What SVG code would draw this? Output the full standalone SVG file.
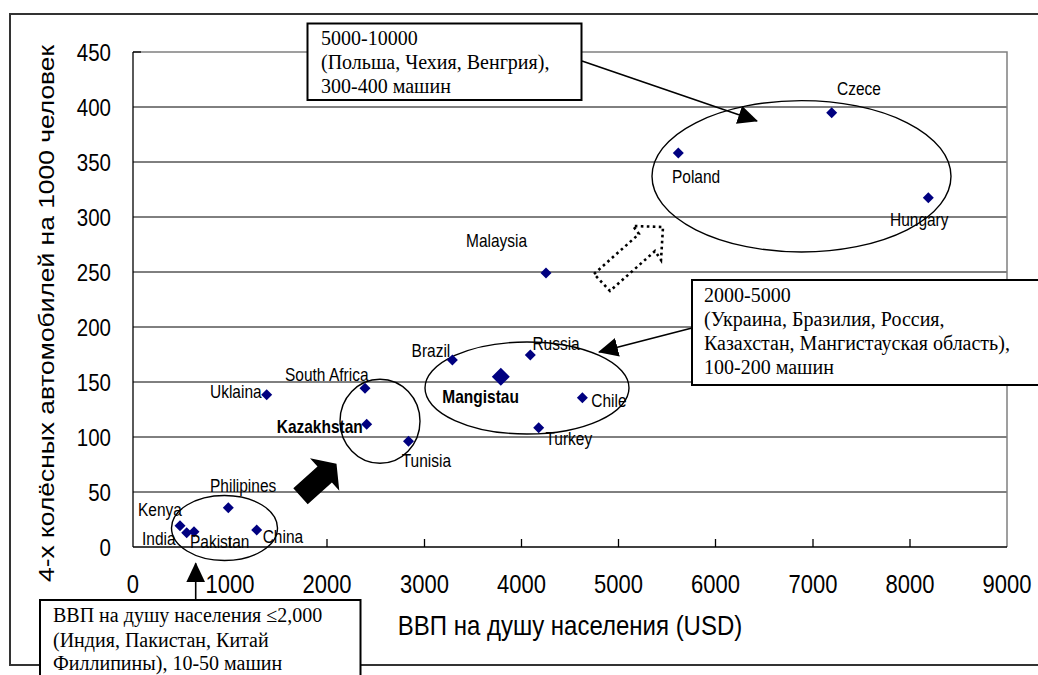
<svg xmlns="http://www.w3.org/2000/svg" width="1038" height="675" viewBox="0 0 1038 675">
  <style>
    .frame { fill: #ffffff; stroke: #333333; stroke-width: 2; }
    .grid { stroke: #000000; stroke-width: 1; }
    .border { stroke: #808080; stroke-width: 1.5; fill: none; }
    .axis { stroke: #000000; stroke-width: 1.3; }
    .tick { font-family: "Liberation Sans", Arial, sans-serif; font-size: 20.5px; fill: #000000; }
    .xtick { font-family: "Liberation Sans", Arial, sans-serif; font-size: 22px; fill: #000000; text-anchor: middle; }
    .title { font-family: "Liberation Sans", Arial, sans-serif; fill: #000000; }
    .lbl { font-family: "Liberation Sans", Arial, sans-serif; font-size: 15.5px; fill: #000000; }
    .bold { font-weight: bold; }
    .pt { fill: #000080; }
    .ring { fill: none; stroke: #000000; stroke-width: 1.4; }
    .note { fill: #ffffff; stroke: #000000; stroke-width: 2; }
    .note-text { font-family: "Liberation Serif", "Times New Roman", serif; font-size: 20px; fill: #000000; }
    .lead { stroke: #000000; stroke-width: 1.6; fill: none; }
  </style>
  <defs>
    <path id="dia" d="M0,-5.5 L5.5,0 L0,5.5 L-5.5,0 Z"/>
    <path id="dia-big" d="M0,-9 L9,0 L0,9 L-9,0 Z"/>
    <marker id="head" viewBox="0 0 20 19" markerWidth="20" markerHeight="19" refX="19" refY="9.5" orient="auto" markerUnits="userSpaceOnUse">
      <path d="M0,0 L20,9.5 L0,19 Z" fill="#000000"/>
    </marker>
  </defs>

  <!-- chart area -->
  <rect x="0" y="0" width="1038" height="675" fill="#ffffff"/>
  <rect class="frame" x="10" y="14" width="1040" height="651"/>

  <!-- plot area: gridlines, border, axes -->
  <g id="plot">
    <g class="grid">
      <line x1="133" y1="107" x2="1007" y2="107"/>
      <line x1="133" y1="162" x2="1007" y2="162"/>
      <line x1="133" y1="217" x2="1007" y2="217"/>
      <line x1="133" y1="272" x2="1007" y2="272"/>
      <line x1="133" y1="327" x2="1007" y2="327"/>
      <line x1="133" y1="382" x2="1007" y2="382"/>
      <line x1="133" y1="437" x2="1007" y2="437"/>
      <line x1="133" y1="492" x2="1007" y2="492"/>
    </g>
    <path class="border" d="M133,52 H1007 V547"/>
    <g class="axis">
      <line x1="133" y1="52" x2="133" y2="547"/>
      <line x1="133" y1="547" x2="1007" y2="547"/>
      <line x1="133" y1="52" x2="141" y2="52"/>
      <line x1="230" y1="547" x2="230" y2="539"/>
      <line x1="327" y1="547" x2="327" y2="539"/>
      <line x1="424.5" y1="547" x2="424.5" y2="539"/>
      <line x1="521.5" y1="547" x2="521.5" y2="539"/>
      <line x1="618.5" y1="547" x2="618.5" y2="539"/>
      <line x1="715.5" y1="547" x2="715.5" y2="539"/>
      <line x1="813" y1="547" x2="813" y2="539"/>
      <line x1="910" y1="547" x2="910" y2="539"/>
    </g>
  </g>

  <!-- axis labels (chart font is drawn 15% taller than wide) -->
  <g id="y-axis-labels" class="tick" text-anchor="end" transform="scale(1,1.15)">
    <text x="111" y="53.04">450</text>
    <text x="111" y="100.87">400</text>
    <text x="111" y="148.7">350</text>
    <text x="111" y="196.52">300</text>
    <text x="111" y="244.35">250</text>
    <text x="111" y="292.17">200</text>
    <text x="111" y="340">150</text>
    <text x="111" y="387.83">100</text>
    <text x="111" y="435.65">50</text>
    <text x="111" y="483.48">0</text>
  </g>
  <g id="x-axis-labels" class="xtick" transform="scale(1,1.15)">
    <text x="133" y="515.65">0</text>
    <text x="230" y="515.65">1000</text>
    <text x="327" y="515.65">2000</text>
    <text x="424.5" y="515.65">3000</text>
    <text x="521.5" y="515.65">4000</text>
    <text x="618.5" y="515.65">5000</text>
    <text x="715.5" y="515.65">6000</text>
    <text x="813" y="515.65">7000</text>
    <text x="910" y="515.65">8000</text>
    <text x="1007" y="515.65">9000</text>
  </g>
  <text id="y-title" class="title" font-size="22" text-anchor="middle" textLength="537" lengthAdjust="spacingAndGlyphs" transform="translate(53.5,313.5) rotate(-90)">4-х колёсных автомобилей на 1000 человек</text>
  <text id="x-title" class="title" font-size="24" x="570" y="552.17" text-anchor="middle" transform="scale(1,1.15)">ВВП на душу населения (USD)</text>

  <!-- group outlines -->
  <g id="group-high"><ellipse class="ring" cx="801.5" cy="176.3" rx="149.5" ry="75.7"/></g>
  <g id="group-mid"><ellipse class="ring" cx="527" cy="388" rx="102" ry="46"/></g>
  <g id="group-kz"><ellipse class="ring" cx="380" cy="421.3" rx="40" ry="42"/></g>
  <g id="group-low"><ellipse class="ring" cx="224.5" cy="528" rx="53" ry="32.5"/></g>

  <!-- data points; label y values are in the 1.15 tall text space -->
  <g id="pt-czece"><use href="#dia" class="pt" x="831.7" y="112.7"/><text class="lbl" transform="scale(1,1.15)" x="837" y="83.04">Czece</text></g>
  <g id="pt-poland"><use href="#dia" class="pt" x="678.3" y="153"/><text class="lbl" transform="scale(1,1.15)" x="672" y="159.13">Poland</text></g>
  <g id="pt-hungary"><use href="#dia" class="pt" x="928.3" y="197.7"/><text class="lbl" transform="scale(1,1.15)" x="890" y="196.52">Hungary</text></g>
  <g id="pt-malaysia"><use href="#dia" class="pt" x="546" y="273"/><text class="lbl" transform="scale(1,1.15)" x="466" y="214.78">Malaysia</text></g>
  <g id="pt-brazil"><use href="#dia" class="pt" x="452.4" y="360"/><text class="lbl" transform="scale(1,1.15)" x="411.6" y="310.43">Brazil</text></g>
  <g id="pt-russia"><use href="#dia" class="pt" x="530.3" y="355"/><text class="lbl" transform="scale(1,1.15)" x="532.4" y="304.35">Russia</text></g>
  <g id="pt-mangistau"><use href="#dia-big" class="pt" x="500.8" y="376.7"/><text class="lbl bold" transform="scale(1,1.15)" x="442.3" y="350.43">Mangistau</text></g>
  <g id="pt-chile"><use href="#dia" class="pt" x="582.4" y="397.7"/><text class="lbl" transform="scale(1,1.15)" x="591.3" y="353.91">Chile</text></g>
  <g id="pt-turkey"><use href="#dia" class="pt" x="538.7" y="427.7"/><text class="lbl" transform="scale(1,1.15)" x="545.4" y="386.96">Turkey</text></g>
  <g id="pt-tunisia"><use href="#dia" class="pt" x="408.5" y="441.3"/><text class="lbl" transform="scale(1,1.15)" x="401.7" y="406.09">Tunisia</text></g>
  <g id="pt-south-africa"><use href="#dia" class="pt" x="365" y="388.3"/><text class="lbl" transform="scale(1,1.15)" x="285" y="331.3">South Africa</text></g>
  <g id="pt-kazakhstan"><use href="#dia" class="pt" x="366.7" y="424.3"/><text class="lbl bold" transform="scale(1,1.15)" x="276.7" y="376.52">Kazakhstan</text></g>
  <g id="pt-uklaina"><use href="#dia" class="pt" x="266.7" y="394.7"/><text class="lbl" transform="scale(1,1.15)" x="210" y="346.09">Uklaina</text></g>
  <g id="pt-philipines"><use href="#dia" class="pt" x="228.3" y="507.7"/><text class="lbl" transform="scale(1,1.15)" x="210" y="427.83">Philipines</text></g>
  <g id="pt-kenya"><use href="#dia" class="pt" x="180" y="525.7"/><text class="lbl" transform="scale(1,1.15)" x="138" y="448.7">Kenya</text></g>
  <g id="pt-india"><use href="#dia" class="pt" x="186.7" y="532.7"/><text class="lbl" transform="scale(1,1.15)" x="142" y="473.91">India</text></g>
  <g id="pt-pakistan"><use href="#dia" class="pt" x="194" y="531.7"/><text class="lbl" transform="scale(1,1.15)" x="190" y="476.52">Pakistan</text></g>
  <g id="pt-china"><use href="#dia" class="pt" x="256.7" y="530"/><text class="lbl" transform="scale(1,1.15)" x="262.7" y="472.17">China</text></g>

  <!-- connectors and trend arrows -->
  <g id="connectors">
    <line class="lead" x1="582" y1="61" x2="757" y2="121" marker-end="url(#head)"/>
    <line class="lead" x1="692" y1="328" x2="599" y2="352" marker-end="url(#head)"/>
    <line class="lead" x1="195.7" y1="600" x2="195.7" y2="563.3" marker-end="url(#head)"/>
    <!-- solid block arrow: low to middle income -->
    <polygon points="293.3,488.3 317.5,466.5 310,458.3 336.5,463.8 339.3,490.7 331.9,482.5 307.7,504.3" fill="#000000"/>
    <!-- dotted block arrow: middle to high income -->
    <polygon points="594,274 639,234 633,226 663,227 661,260 655,251 610,291" fill="none" stroke="#000000" stroke-width="2.6" stroke-dasharray="2.6 3.4"/>
  </g>

  <!-- callouts -->
  <g id="note-high">
    <rect class="note" x="307.5" y="23.5" width="274" height="76.5"/>
    <text class="note-text" x="321" y="45">5000-10000</text>
    <text class="note-text" x="321" y="69">(Польша, Чехия, Венгрия),</text>
    <text class="note-text" x="321" y="93">300-400 машин</text>
  </g>
  <g id="note-mid">
    <rect class="note" x="692" y="280" width="360" height="105"/>
    <text class="note-text" x="704" y="302">2000-5000</text>
    <text class="note-text" x="704" y="326">(Украина, Бразилия, Россия,</text>
    <text class="note-text" x="704" y="350">Казахстан, Мангистауская область),</text>
    <text class="note-text" x="704" y="374">100-200 машин</text>
  </g>
  <g id="note-low">
    <rect class="note" x="40" y="600" width="320.5" height="90"/>
    <text class="note-text" x="53" y="622">ВВП на душу населения ≤2,000</text>
    <text class="note-text" x="53" y="646.5">(Индия, Пакистан, Китай</text>
    <text class="note-text" x="53" y="670">Филлипины), 10-50 машин</text>
  </g>
</svg>
